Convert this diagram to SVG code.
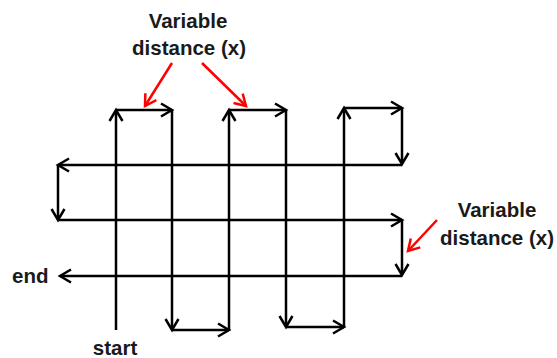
<svg xmlns="http://www.w3.org/2000/svg" width="557" height="358" viewBox="0 0 557 358">
<defs>
<style>
.ln{stroke:#000;stroke-width:2.5;fill:none;marker-end:url(#ah)}
.rd{stroke:#f00;stroke-width:2.5;fill:none;marker-end:url(#rh)}
.t{font-family:"Liberation Sans",Arial,sans-serif;font-weight:bold;font-size:20.5px;fill:#1a1a1a}
</style>
<marker id="ah" markerUnits="userSpaceOnUse" orient="auto" markerWidth="20" markerHeight="20" refX="0" refY="0" viewBox="-14 -10 20 20" overflow="visible">
<path d="M-11,-6.5 L0,0 L-11,6.5" fill="none" stroke="#000" stroke-width="2.5"/>
</marker>
<marker id="rh" markerUnits="userSpaceOnUse" orient="auto" markerWidth="20" markerHeight="20" refX="0" refY="0" viewBox="-14 -10 20 20" overflow="visible">
<path d="M-11,-6.5 L0,0 L-11,6.5" fill="none" stroke="#f00" stroke-width="2.5"/>
</marker>
</defs>
<rect width="557" height="358" fill="#fff"/>
<g id="connectors">
<line class="ln" x1="116" y1="330" x2="116" y2="110"/>
<line class="ln" x1="116" y1="110" x2="172" y2="110"/>
<line class="ln" x1="172" y1="110" x2="172" y2="330"/>
<line class="ln" x1="172" y1="330" x2="229" y2="330"/>
<line class="ln" x1="229" y1="330" x2="229" y2="110"/>
<line class="ln" x1="229" y1="110" x2="286" y2="110"/>
<line class="ln" x1="286" y1="110" x2="286" y2="327"/>
<line class="ln" x1="286" y1="327" x2="344" y2="327"/>
<line class="ln" x1="344" y1="327" x2="344" y2="108"/>
<line class="ln" x1="344" y1="108" x2="402" y2="108"/>
<line class="ln" x1="402" y1="108" x2="402" y2="164"/>
<line class="ln" x1="402" y1="165" x2="58" y2="165"/>
<line class="ln" x1="58" y1="165" x2="58" y2="220"/>
<line class="ln" x1="58" y1="220" x2="402" y2="220"/>
<line class="ln" x1="402" y1="220" x2="402" y2="275"/>
<line class="ln" x1="402" y1="276" x2="60" y2="276"/>
<line class="rd" x1="172" y1="63" x2="145" y2="106"/>
<line class="rd" x1="202" y1="63" x2="246" y2="106"/>
<line class="rd" x1="437" y1="220" x2="408" y2="251"/>
</g>
<g id="label-top">
<text class="t" x="188" y="28" text-anchor="middle">Variable</text>
<text class="t" x="189" y="55" text-anchor="middle">distance (x)</text>
</g>
<g id="label-right">
<text class="t" x="497" y="217" text-anchor="middle">Variable</text>
<text class="t" x="497" y="245" text-anchor="middle">distance (x)</text>
</g>
<g id="label-end">
<text class="t" x="12" y="283">end</text>
</g>
<g id="label-start">
<text class="t" x="115" y="355" text-anchor="middle">start</text>
</g>
</svg>
